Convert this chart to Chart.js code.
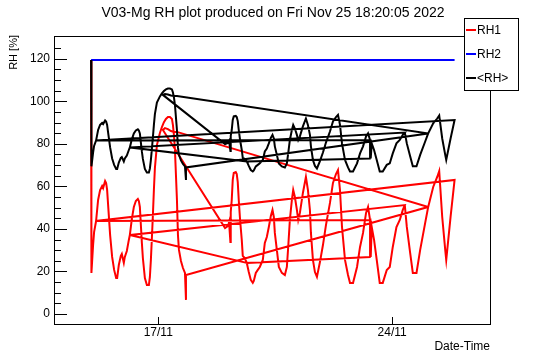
<!DOCTYPE html>
<html>
<head>
<meta charset="utf-8">
<script src="https://cdn.jsdelivr.net/npm/chart.js@4.4.0/dist/chart.umd.min.js"></script>
<style>
  html, body { margin: 0; padding: 0; background: #fff; }
  canvas { display: block; }
</style>
</head>
<body>
<canvas id="rhChart" width="546" height="362"></canvas>
<script>
// x = day of November 2022, y = relative humidity in %
// the logger files come in out of order, so the curve is stored in pieces
const p1aDays = [14.99, 15.00, 15.02, 15.05, 15.08, 15.14];
const p1aRh1 = [119.4, 19.3, 24.4, 32.4, 38.5, 43.7];
const p1aMean = [119.4, 69.4, 71.9, 75.9, 79.0, 81.6];

const p1bDays = [15.14, 15.20, 15.26, 15.32, 15.35, 15.41, 15.44, 15.47, 15.50, 15.56, 15.62, 15.68, 15.74, 15.77, 15.82, 15.88, 15.91, 15.97, 16.00, 16.06, 16.12, 16.15];
const p1bRh1 = [43.7, 53.6, 58.3, 60.2, 59.2, 62.5, 61.6, 58.3, 51.2, 37.1, 26.8, 20.7, 16.9, 16.9, 23.0, 27.3, 28.2, 24.0, 26.8, 29.6, 34.8, 37.1];
const p1bMean = [81.6, 86.5, 88.9, 89.8, 89.3, 91.0, 90.5, 88.9, 85.3, 78.3, 73.1, 70.1, 68.2, 68.2, 71.2, 73.4, 73.8, 71.7, 73.1, 74.5, 77.1, 78.3];

const p1cDays = [16.15, 16.21, 16.27, 16.33, 16.39, 16.42, 16.45, 16.48, 16.51, 16.54, 16.60, 16.66, 16.72, 16.75, 16.78, 16.81, 16.84, 16.87, 16.90, 16.96, 17.05, 17.11, 17.17, 17.23, 17.29, 17.35, 17.41, 17.44, 17.47, 17.50, 17.53, 17.56, 17.59, 17.62, 17.68, 17.74, 17.80, 17.83, 17.83];
const p1cRh1 = [37.1, 44.7, 50.3, 53.1, 54.1, 53.1, 50.3, 41.8, 33.4, 26.3, 16.9, 13.6, 13.6, 17.4, 25.4, 35.7, 46.5, 58.3, 68.6, 79.4, 85.1, 87.9, 90.2, 91.7, 92.6, 92.6, 91.7, 88.8, 84.1, 77.1, 65.3, 53.6, 37.1, 30.1, 24.9, 21.6, 19.3, 6.6, 18.3];
const p1cMean = [78.3, 82.1, 84.9, 86.3, 86.8, 86.3, 84.9, 80.6, 76.4, 72.9, 68.2, 66.5, 66.5, 68.4, 72.4, 77.6, 83.0, 88.9, 94.0, 99.4, 102.3, 103.7, 104.8, 105.6, 106.0, 106.0, 105.6, 104.1, 101.8, 98.3, 92.4, 86.5, 78.3, 74.8, 72.2, 70.5, 69.4, 63.0, 68.9];

const arcDays = [17.14, 17.20, 17.29, 17.38, 17.47, 17.56];
const arcRh1 = [86.5, 87.4, 86.9, 86.0, 85.6, 85.6];
const arcMean = [103.0, 103.4, 103.2, 102.7, 102.5, 102.5];

const p2aDays = [19.00, 19.09, 19.12, 19.16, 19.17, 19.20, 19.23, 19.26, 19.32, 19.35, 19.38, 19.41, 19.45, 19.50, 19.53, 19.56, 19.59, 19.65];
const p2aRh1 = [40.4, 41.4, 43.2, 33.8, 47.9, 53.6, 63.0, 66.3, 66.7, 65.8, 62.0, 53.6, 44.2, 34.8, 27.3, 26.8, 26.3, 24.0];
const p2aMean = [79.9, 80.4, 81.3, 76.6, 83.7, 86.5, 91.2, 92.9, 93.1, 92.6, 90.7, 86.5, 81.8, 77.1, 73.4, 73.1, 72.9, 71.7];

const p2bDays = [19.65, 19.71, 19.77, 19.83, 19.86, 19.92, 19.98, 20.04,
  20.13, 20.19, 20.25, 20.31, 20.37, 20.42, 20.46, 20.49, 20.55, 20.61,
  20.70, 20.79, 20.85, 20.89, 20.94, 21.00, 21.04, 21.09, 21.15, 21.19,
  21.24, 21.33, 21.42, 21.48, 21.54, 21.57, 21.63, 21.69, 21.75,
  21.84, 21.93, 22.02, 22.14, 22.23, 22.32, 22.38, 22.44, 22.50, 22.59,
  22.68, 22.74, 22.83, 22.95, 23.04, 23.13, 23.22, 23.28, 23.34];
const p2bRh1 = [24.0, 19.7, 16.0, 14.6, 15.5, 19.3, 20.7, 22.1,
  25.4, 33.4, 36.2, 40.9, 46.1, 48.9, 45.6, 38.1, 30.1, 22.1,
  19.3, 18.3, 22.1, 31.5, 44.2, 53.6, 58.3, 55.0, 48.9, 44.2,
  47.5, 56.9, 64.4, 58.3, 48.9, 38.1, 25.4, 19.7, 17.4,
  24.4, 32.4, 41.8, 52.2, 61.6, 65.8, 67.7, 58.3, 40.9, 25.4,
  18.3, 14.6, 14.6, 22.1, 31.5, 38.1, 47.5, 50.3, 44.2];
const p2bMean = [71.7, 69.6, 67.7, 67.0, 67.5, 69.4, 70.1, 70.8,
  72.4, 76.4, 77.8, 80.2, 82.8, 84.2, 82.5, 78.8, 74.8, 70.8,
  69.4, 68.9, 70.8, 75.5, 81.8, 86.5, 88.9, 87.2, 84.2, 81.8,
  83.5, 88.2, 91.9, 88.9, 84.2, 78.8, 72.4, 69.6, 68.4,
  71.9, 75.9, 80.6, 85.8, 90.5, 92.6, 93.6, 88.9, 80.2, 72.4,
  68.9, 67.0, 67.0, 70.8, 75.5, 78.8, 83.5, 84.9, 81.8];

const p2c1Days = [23.34, 23.36];
const p2c1Rh1 = [44.2, 26.8];
const p2c1Mean = [81.8, 73.1];

const p2c2Days = [23.36, 23.39, 23.46, 23.54, 23.63, 23.72, 23.84, 23.93, 24.02, 24.13, 24.23, 24.32, 24.38];
const p2c2Rh1 = [26.8, 40.9, 34.8, 25.4, 14.6, 14.6, 20.7, 22.1, 31.5, 40.9, 44.2, 48.9, 51.2];
const p2c2Mean = [73.1, 80.2, 77.1, 72.4, 67.0, 67.0, 70.1, 70.8, 75.5, 80.2, 81.8, 84.2, 85.3];

const p2dDays = [24.38, 24.44, 24.54, 24.62, 24.73, 24.84, 24.99, 25.08];
const p2dRh1 = [51.2, 40.9, 28.7, 19.3, 19.3, 30.1, 42.8, 50.3];
const p2dMean = [85.3, 80.2, 74.1, 69.4, 69.4, 74.8, 81.1, 84.9];

const p2eDays = [25.08, 25.23, 25.35, 25.41, 25.50, 25.59, 25.62, 25.75, 25.87];
const p2eRh1 = [50.3, 59.7, 64.4, 67.2, 45.6, 30.1, 25.4, 45.6, 63.0];
const p2eMean = [84.9, 89.6, 91.9, 93.3, 82.5, 74.8, 72.4, 82.5, 91.2];

// RH2 sits flat at the top for the whole run
const rh2Days = [14.99, 25.87];
const rh2 = [119.4, 119.4];

// order in which the pieces were read ('-r' = stored backwards), 'gap' = break
const pieceOrder = ['p1a', 'p2e-r', 'arc-r', 'p2a', 'p1b-r', 'p2b-r', 'p2c1-r', 'gap', 'p2c2', 'p1c', 'p2d-r'];

const dateTicks = [17, 24];
const rhTicks = [0, 20, 40, 60, 80, 100, 120];

const pieces = {
    p1a: [p1aDays, p1aRh1, p1aMean],
    p1b: [p1bDays, p1bRh1, p1bMean],
    p1c: [p1cDays, p1cRh1, p1cMean],
    arc: [arcDays, arcRh1, arcMean],
    p2a: [p2aDays, p2aRh1, p2aMean],
    p2b: [p2bDays, p2bRh1, p2bMean],
    p2c1: [p2c1Days, p2c1Rh1, p2c1Mean],
    p2c2: [p2c2Days, p2c2Rh1, p2c2Mean],
    p2d: [p2dDays, p2dRh1, p2dMean],
    p2e: [p2eDays, p2eRh1, p2eMean]
};

function buildSeries(col) {
    let pts = [];
    pieceOrder.forEach(function (step) {
        if (step === 'gap') {
            pts.push({ x: pts[pts.length - 1].x, y: null });
            return;
        }
        let name = step.replace('-r', '');
        let p = pieces[name];
        let seg = p[0].map(function (d, i) { return { x: d, y: p[col][i] }; });
        if (step.endsWith('-r')) seg.reverse();
        pts = pts.concat(seg);
    });
    return pts;
}

const FONT = '"Liberation Sans", Arial, Helvetica, sans-serif';

const rootFrame = {
    id: 'rootFrame',
    afterDraw(chart) {
        const ctx = chart.ctx;
        const a = chart.chartArea;
        const xs = chart.scales.x;
        const ys = chart.scales.y;
        ctx.save();
        ctx.strokeStyle = '#000';
        ctx.lineWidth = 1;

        // frame
        ctx.strokeRect(a.left + 0.5, a.top + 0.5, a.right - a.left - 1, a.bottom - a.top - 1);

        // y ticks: majors every 20, minors every 5, drawn inside the frame
        ctx.beginPath();
        for (let v = 0; v <= 125; v += 5) {
            const y = Math.round(ys.getPixelForValue(v)) + 0.5;
            const len = (v % 20 === 0) ? 13 : 7;
            ctx.moveTo(a.left, y);
            ctx.lineTo(a.left + len, y);
        }
        // x ticks
        dateTicks.forEach(function (d) {
            const x = Math.round(xs.getPixelForValue(d)) + 0.5;
            ctx.moveTo(x, a.bottom);
            ctx.lineTo(x, a.bottom - 8);
        });
        ctx.stroke();

        ctx.fillStyle = '#000';
        ctx.font = '12px ' + FONT;
        ctx.textAlign = 'right';
        ctx.textBaseline = 'middle';
        rhTicks.forEach(function (v) {
            ctx.fillText(String(v), a.left - 4, ys.getPixelForValue(v));
        });
        ctx.textAlign = 'center';
        dateTicks.forEach(function (d) {
            ctx.fillText(d + '/11', xs.getPixelForValue(d), a.bottom + 8);
        });

        // axis titles
        ctx.textAlign = 'right';
        ctx.fillText('Date-Time', a.right - 1, a.bottom + 22);
        ctx.save();
        ctx.font = '11px ' + FONT;
        ctx.translate(14, a.top - 1);
        ctx.rotate(-Math.PI / 2);
        ctx.fillText('RH [%]', 0, 0);
        ctx.restore();

        // title
        ctx.font = '14px ' + FONT;
        ctx.textAlign = 'center';
        ctx.fillText('V03-Mg RH plot produced on Fri Nov 25 18:20:05 2022', 273, 13);

        // legend box
        const lx = 464, ly = 18, lw = 54, lh = 72;
        ctx.fillStyle = '#fff';
        ctx.fillRect(lx, ly, lw, lh);
        ctx.strokeRect(lx + 0.5, ly + 0.5, lw, lh);
        const rows = [30, 54, 78];
        ctx.font = '12px ' + FONT;
        ctx.textAlign = 'left';
        chart.data.datasets.forEach(function (ds, i) {
            const y = rows[i];
            ctx.strokeStyle = ds.borderColor;
            ctx.lineWidth = 2;
            ctx.beginPath();
            ctx.moveTo(lx + 2, y);
            ctx.lineTo(lx + 12, y);
            ctx.stroke();
            ctx.fillStyle = '#000';
            ctx.fillText(ds.label, lx + 13, y + 1);
        });
        ctx.restore();
    }
};

const config = {
    type: 'scatter',
    data: {
        datasets: [
            {
                label: 'RH1',
                data: buildSeries(1),
                borderColor: 'rgb(255, 0, 0)',
                order: 3
            },
            {
                label: 'RH2',
                data: rh2Days.map(function (d, i) { return { x: d, y: rh2[i] }; }),
                borderColor: 'rgb(0, 0, 255)',
                order: 2
            },
            {
                label: '<RH>',
                data: buildSeries(2),
                borderColor: 'rgb(0, 0, 0)',
                order: 1
            }
        ]
    },
    options: {
        responsive: false,
        animation: false,
        devicePixelRatio: 1,
        showLine: true,
        spanGaps: false,
        layout: { padding: { left: 54, right: 55, top: 36, bottom: 37 } },
        elements: {
            point: { radius: 0, hoverRadius: 0 },
            line: { borderWidth: 2, tension: 0 }
        },
        scales: {
            x: { type: 'linear', display: false, min: 13.88, max: 26.96 },
            y: { type: 'linear', display: false, min: -5.2, max: 130.7 }
        },
        plugins: {
            legend: { display: false },
            tooltip: { enabled: false },
            title: { display: false }
        }
    },
    plugins: [rootFrame]
};

new Chart(document.getElementById('rhChart'), config);
</script>
</body>
</html>
